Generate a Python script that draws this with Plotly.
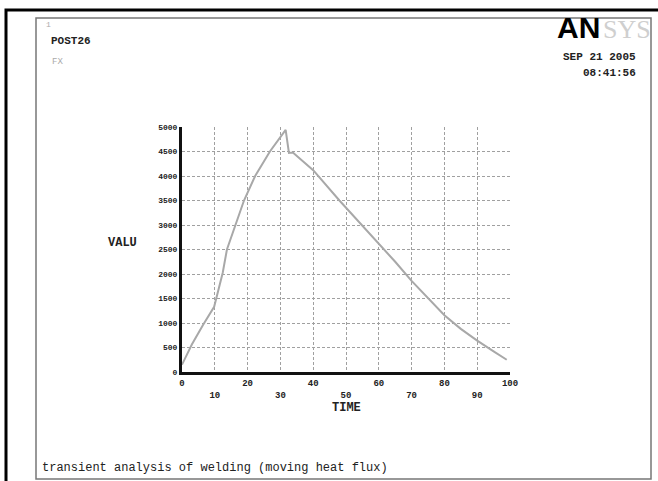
import plotly.graph_objects as go

# ---- data ----
time_vals = [0, 3, 6.4, 9.8, 11, 12.4, 13.7, 16.2, 18.9, 22.3, 26.8, 31.6, 32.6, 33.8,
             40, 48, 55, 60, 65, 70, 75, 80, 85, 90, 95, 99]
fx_vals = [150, 560, 960, 1330, 1650, 2020, 2500, 3000, 3500, 4000, 4500, 4940, 4470, 4480,
           4120, 3500, 2980, 2630, 2250, 1860, 1500, 1160, 880, 640, 420, 250]
x_ticks = [0, 10, 20, 30, 40, 50, 60, 70, 80, 90, 100]
y_ticks = [0, 500, 1000, 1500, 2000, 2500, 3000, 3500, 4000, 4500, 5000]

W, H = 658, 481
L, R, T, B = 182, 510, 127, 372  # plot area in pixels


def px(x):
    return (x - L) / (R - L)


def py(y):
    return (B - y) / (B - T)


mono = "Liberation Mono, Courier New, monospace"

fig = go.Figure()
fig.add_trace(go.Scatter(x=time_vals, y=fx_vals, mode="lines",
                         line=dict(color="#a8a8a8", width=2), hoverinfo="skip"))

x_text = [("<b>%d</b>" % v) if (v // 10) % 2 == 0 else ("<br><b>%d</b>" % v) for v in x_ticks]
y_text = ["<b>%d</b>" % v for v in y_ticks]

fig.update_layout(
    width=W, height=H,
    margin=dict(l=L, r=W - R, t=T, b=H - B, autoexpand=False),
    paper_bgcolor="white", plot_bgcolor="white",
    showlegend=False,
    font=dict(family=mono, color="#222"),
    xaxis=dict(range=[0, 100], tickvals=x_ticks, ticktext=x_text,
               showgrid=True, gridcolor="#a0a0a0", griddash="3px,2px", gridwidth=1,
               showline=True, linecolor="#111", linewidth=3, zeroline=False,
               ticks="", tickfont=dict(size=9, family=mono, color="#222"),
               fixedrange=True),
    yaxis=dict(range=[0, 5000], tickvals=y_ticks, ticktext=y_text,
               showgrid=True, gridcolor="#a0a0a0", griddash="3px,2px", gridwidth=1,
               showline=True, linecolor="#111", linewidth=3, zeroline=False,
               ticks="", tickfont=dict(size=8, family=mono, color="#222"),
               fixedrange=True),
)

shapes = [
    # outer black frame
    dict(type="rect", xref="paper", yref="paper",
         x0=px(6), x1=px(664), y0=py(488), y1=py(10),
         line=dict(color="black", width=3)),
    # inner grey frame
    dict(type="rect", xref="paper", yref="paper",
         x0=px(36), x1=px(651), y0=py(479), y1=py(18),
         line=dict(color="#777", width=1.5)),
]
fig.update_layout(shapes=shapes)

ann = []


def txt(x, y, s, size, color="#222", anchor="left", bold=False, family=mono):
    if bold:
        s = "<b>%s</b>" % s
    ann.append(dict(xref="paper", yref="paper", x=px(x), y=py(y), text=s,
                    showarrow=False, xanchor=anchor, yanchor="middle",
                    font=dict(size=size, color=color, family=family)))


txt(44, 25, "1", 8, color="#aaa")
txt(49, 41, "POST26", 11, bold=True)
txt(50, 62, "FX", 9, color="#aaa")
txt(638, 57, "SEP 21 2005", 11, bold=True, anchor="right")
txt(638, 73, "08:41:56", 11, bold=True, anchor="right")
txt(602, 27, "AN", 30, color="black", anchor="right", bold=True,
    family="Liberation Sans, Arial, sans-serif")
txt(601, 29, "SYS", 26, color="#cfcfcf", anchor="left",
    family="Liberation Serif, Times New Roman, serif")
txt(122, 243, "VALU", 12, bold=True, anchor="center")
txt(346, 408, "TIME", 12, bold=True, anchor="center")
txt(40, 468, "transient analysis of welding (moving heat flux)", 12)
fig.update_layout(annotations=ann)

fig.write_html("out.html", config={"displayModeBar": False},
               post_script="document.body.style.margin='0';document.body.style.overflow='hidden';")
